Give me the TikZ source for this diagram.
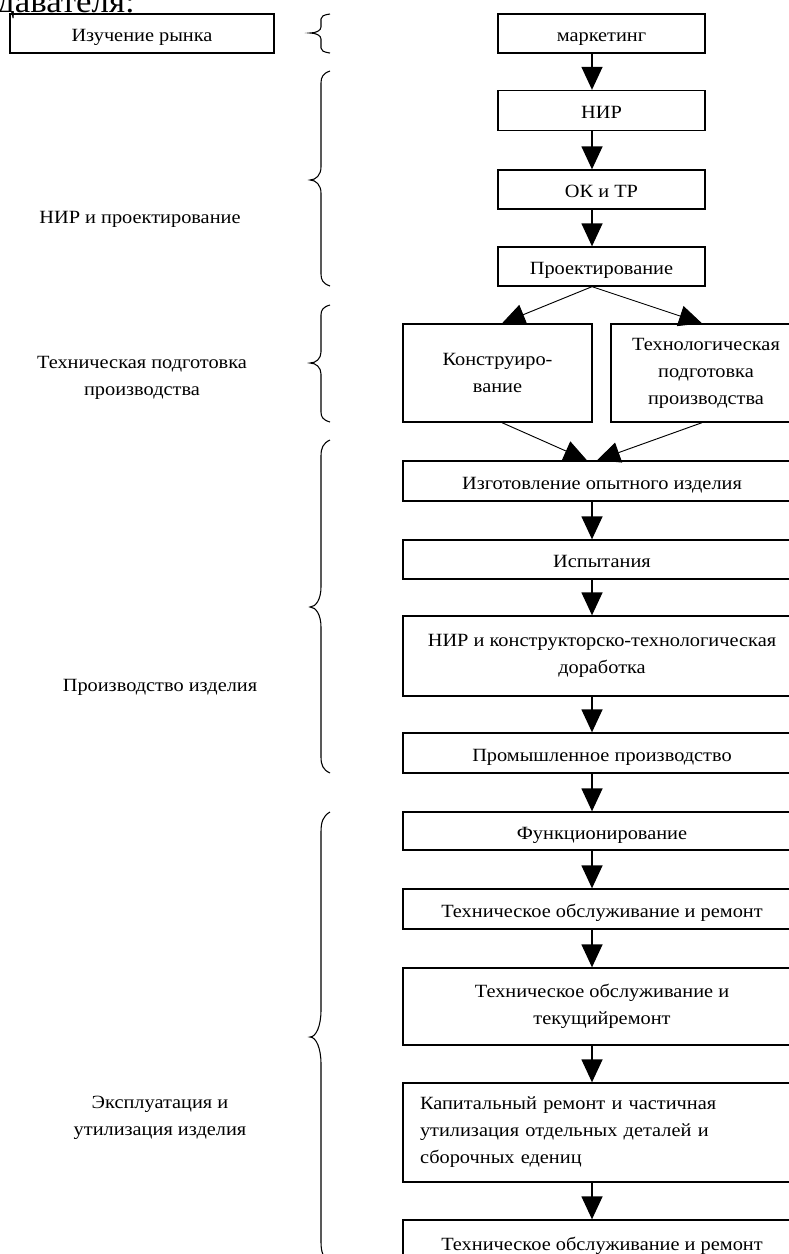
\documentclass[tikz,border=0pt]{standalone}
\usepackage{fontspec}
\setmainfont{Liberation Serif}[FakeStretch=1.09]
\usetikzlibrary{arrows.meta,calc}
\newcommand\mybrace[5]{%
  \draw[bracepath] (330,#1) .. controls (323,#1+#4*0.2) and (321,#1+#4*0.5) .. (321,#1+#4)
    -- (321,#2-#5) .. controls (321,#2-#5*0.4) and (316,#2) .. (310,#2)
    .. controls (316,#2) and (321,#2+#5*0.4) .. (321,#2+#5)
    -- (321,#3-#4) .. controls (321,#3-#4*0.5) and (323,#3-#4*0.2) .. (330,#3);}
\begin{document}
\begin{tikzpicture}[x=0.75pt,y=-0.75pt,
  box/.style={draw, line width=1pt, inner sep=0pt, align=center,
    font=\fontsize{14}{20.25}\selectfont},
  one/.style={text height=13pt, text depth=0.6pt},
  sz/.style 2 args={minimum width=#1*0.75pt, minimum height=#2*0.75pt},
  lbl/.style={align=center, inner sep=0pt, font=\fontsize{14}{20.25}\selectfont},
  arr/.style={line width=1.1pt, -{Triangle[width=15.75pt,length=17.25pt]}},
  darr/.style={line width=0.7pt, -{Triangle[width=15.75pt,length=17.25pt]}},
  bracepath/.style={line width=0.8pt}]
\useasboundingbox[fill=white] (0,0) rectangle (789,1254);
% fragment of the page text above
\node[anchor=base east, inner sep=0pt, font=\fontsize{24}{24}\selectfont] (frag) at (135,12) {преподавателя:};
% left column
\node[box, one, sz={264}{39}] (izuch) at (142,33.5) {Изучение рынка};
\node[lbl] (l1) at (140,219) {НИР и проектирование};
\node[lbl] (l2) at (142,378) {Техническая подготовка\\производства};
\node[lbl] (l3) at (160,687) {Производство изделия};
\node[lbl] (l4) at (160,1118) {Эксплуатация и\\утилизация изделия};
% braces
\mybrace{14}{33}{53}{5}{6}
\mybrace{71}{180}{286}{12}{13}
\mybrace{305}{363}{422}{10}{11}
\mybrace{440}{607}{773}{16}{20}
\mybrace{812}{1037}{1262}{20}{27}
% right column
\coordinate (ax) at (592,0);
\coordinate (kl) at (502,0);
\coordinate (tr) at (702,0);
\coordinate (cl) at (587,0);
\coordinate (cr) at (597,0);
\node[box, one, sz={207}{39}] (mk) at (601.5,33.5) {маркетинг};
\node[box, one, sz={207}{40}] (nir) at (601.5,110.5) {НИР};
\node[box, one, sz={207}{39}] (okt) at (601.5,189.5) {ОК и ТР};
\node[box, one, sz={207}{39}] (proj) at (601.5,266.5) {Проектирование};
\node[box, sz={189}{98}] (kons) at (497.5,373) {Конструиро-\\вание};
\node[box, sz={190}{98}] (tech) at (706,373) {Технологическая\\подготовка\\производства};
\node[box, one, sz={398}{40}] (izg) at (602,481) {Изготовление опытного изделия};
\node[box, one, sz={398}{39}] (isp) at (602,559.5) {Испытания};
\node[box, sz={398}{80}] (nird) at (602,656) {НИР и конструкторско-технологическая\\доработка};
\node[box, one, sz={398}{40}] (prom) at (602,753) {Промышленное производство};
\node[box, one, sz={398}{38}] (func) at (602,831) {Функционирование};
\node[box, one, sz={398}{40}] (to1) at (602,909) {Техническое обслуживание и ремонт};
\node[box, sz={398}{77}] (to2) at (602,1006.5) {Техническое обслуживание и\\текущийремонт};
\node[box, sz={398}{99}, align=left, inner xsep=12.75pt, text width=273pt] (kap) at (602,1132.5) {Капитальный ремонт и частичная\\утилизация отдельных деталей и\\сборочных едениц};
\node[box, one, sz={398}{44}] (to3) at (602,1242) {Техническое обслуживание и ремонт};
% connectors
\draw[arr] (mk.south -| ax) -- (nir.north -| ax);
\draw[arr] (nir.south -| ax) -- (okt.north -| ax);
\draw[arr] (okt.south -| ax) -- (proj.north -| ax);
\draw[darr] (proj.south -| ax) -- (kons.north -| kl);
\draw[darr] (proj.south -| ax) -- (tech.north -| tr);
\draw[darr] (kons.south -| kl) -- (izg.north -| cl);
\draw[darr] (tech.south -| tr) -- (izg.north -| cr);
\draw[arr] (izg.south -| ax) -- (isp.north -| ax);
\draw[arr] (isp.south -| ax) -- (nird.north -| ax);
\draw[arr] (nird.south -| ax) -- (prom.north -| ax);
\draw[arr] (prom.south -| ax) -- (func.north -| ax);
\draw[arr] (func.south -| ax) -- (to1.north -| ax);
\draw[arr] (to1.south -| ax) -- (to2.north -| ax);
\draw[arr] (to2.south -| ax) -- (kap.north -| ax);
\draw[arr] (kap.south -| ax) -- (to3.north -| ax);
\end{tikzpicture}
\end{document}
